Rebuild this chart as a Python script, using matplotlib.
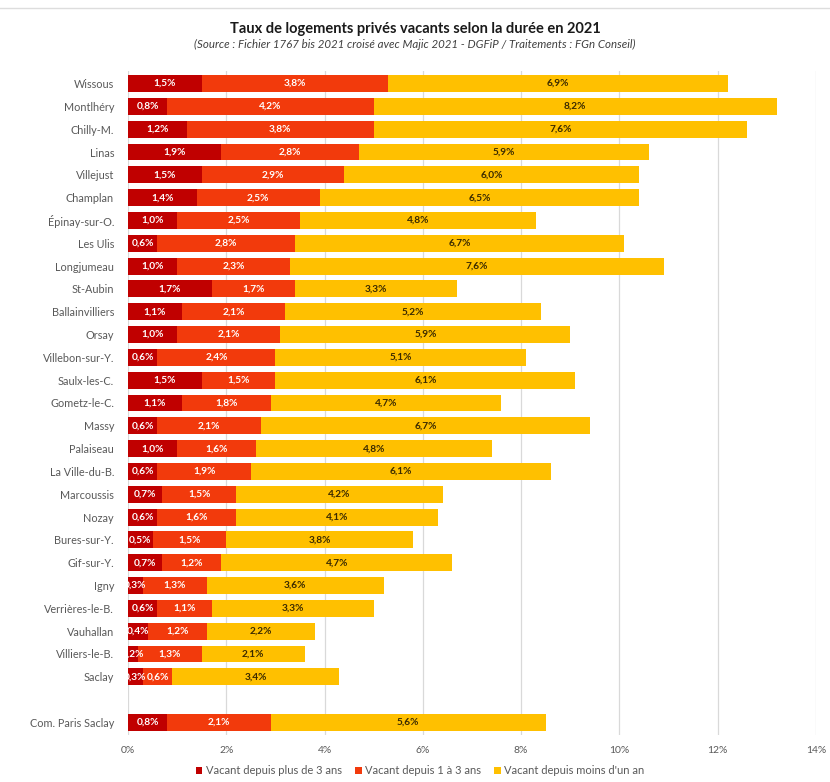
import matplotlib
matplotlib.use("Agg")
import matplotlib.pyplot as plt
from matplotlib.lines import Line2D
import numpy as np

plt.rcParams['font.family'] = ['Lato', 'DejaVu Sans']

communes = ["Wissous", "Montlhéry", "Chilly-M.", "Linas", "Villejust", "Champlan",
            "Épinay-sur-O.", "Les Ulis", "Longjumeau", "St-Aubin", "Ballainvilliers",
            "Orsay", "Villebon-sur-Y.", "Saulx-les-C.", "Gometz-le-C.", "Massy",
            "Palaiseau", "La Ville-du-B.", "Marcoussis", "Nozay", "Bures-sur-Y.",
            "Gif-sur-Y.", "Igny", "Verrières-le-B.", "Vauhallan", "Villiers-le-B.",
            "Saclay", "", "Com. Paris Saclay"]

plus_3_ans = [1.5, 0.8, 1.2, 1.9, 1.5, 1.4, 1.0, 0.6, 1.0, 1.7, 1.1, 1.0, 0.6, 1.5,
              1.1, 0.6, 1.0, 0.6, 0.7, 0.6, 0.5, 0.7, 0.3, 0.6, 0.4, 0.2, 0.3, None, 0.8]
de_1_a_3_ans = [3.8, 4.2, 3.8, 2.8, 2.9, 2.5, 2.5, 2.8, 2.3, 1.7, 2.1, 2.1, 2.4, 1.5,
                1.8, 2.1, 1.6, 1.9, 1.5, 1.6, 1.5, 1.2, 1.3, 1.1, 1.2, 1.3, 0.6, None, 2.1]
moins_1_an = [6.9, 8.2, 7.6, 5.9, 6.0, 6.5, 4.8, 6.7, 7.6, 3.3, 5.2, 5.9, 5.1, 6.1,
              4.7, 6.7, 4.8, 6.1, 4.2, 4.1, 3.8, 4.7, 3.6, 3.3, 2.2, 2.1, 3.4, None, 5.6]

series_names = ["Vacant depuis plus de 3 ans", "Vacant depuis 1 à 3 ans",
                "Vacant depuis moins d'un an"]
x_ticks = [0, 2, 4, 6, 8, 10, 12, 14]

colors = ["#C00000", "#F23A0C", "#FFC000"]
label_colors = ["white", "white", "#3A2A00"]

fig = plt.figure(figsize=(8.3, 7.82), dpi=100)
ax = fig.add_axes([128 / 830, 1 - 735 / 782, 688 / 830, 664 / 782])

y = np.arange(len(communes))
left = np.zeros(len(communes))
for vals, col, lcol, name in zip([plus_3_ans, de_1_a_3_ans, moins_1_an],
                                 colors, label_colors, series_names):
    v = np.array([np.nan if a is None else a for a in vals], dtype=float)
    w = np.nan_to_num(v)
    ax.barh(y, w, left=left, height=0.74, color=col, label=name, zorder=3)
    for yi, (l, val) in enumerate(zip(left, v)):
        if np.isnan(val):
            continue
        ax.text(l + val / 2, yi, f"{val:.1f}%".replace(".", ","),
                ha="center", va="center", fontsize=7.3, fontweight="bold",
                color=lcol, zorder=4)
    left = left + w

ax.set_xlim(0, 14)
ax.set_ylim(len(communes) - 0.45, -0.55)
ax.set_yticks(y)
ax.set_yticklabels(communes, fontsize=7.8, color="#595959")
ax.set_xticks(x_ticks)
ax.set_xticklabels([f"{t}%" for t in x_ticks], fontsize=7.5, color="#595959")
ax.tick_params(axis="both", length=0)
ax.tick_params(axis="x", pad=8)
ax.tick_params(axis="y", pad=10)
ax.grid(axis="x", color="#D9D9D9", linewidth=0.9, zorder=0)
for s in ax.spines.values():
    s.set_visible(False)

fig.text(0.5, 1 - 29 / 782, "Taux de logements privés vacants selon la durée en 2021",
         ha="center", va="center", fontsize=10.5, fontweight="bold", color="#1a1a1a")
fig.text(0.5, 1 - 44 / 782,
         "(Source : Fichier 1767 bis 2021 croisé avec Majic 2021 - DGFiP / Traitements : FGn Conseil)",
         ha="center", va="center", fontsize=8.3, style="italic", color="#404040")

fig.add_artist(Line2D([0, 1], [1 - 8 / 782, 1 - 8 / 782], color="#DDDDDD", linewidth=1))

ax.legend(loc="center", bbox_to_anchor=(420 / 830, 1 - 771 / 782),
          bbox_transform=fig.transFigure, ncol=3, frameon=False, fontsize=8,
          handlelength=0.6, handleheight=0.6, handletextpad=0.3, columnspacing=1.2,
          labelcolor="#595959")

fig.savefig("out.png", dpi=100, facecolor="white")
